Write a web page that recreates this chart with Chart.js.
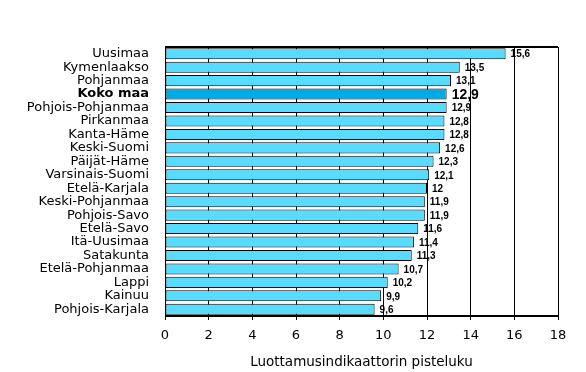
<!DOCTYPE html>
<html lang="fi">
<head>
    <meta charset="UTF-8">
    <title>Luottamusindikaattori maakunnittain</title>
    <script src="https://cdn.jsdelivr.net/npm/chart.js"></script>
    <style>
        html, body { margin: 0; padding: 0; background: #fff; }
        #wrap { width: 586px; height: 372px; }
    </style>
</head>
<body>
    <div id="wrap"><canvas id="chart" width="586" height="372"></canvas></div>

    <script>
        // Data
        const regions = ['Uusimaa', 'Kymenlaakso', 'Pohjanmaa', 'Koko maa', 'Pohjois-Pohjanmaa', 'Pirkanmaa',
            'Kanta-Häme', 'Keski-Suomi', 'Päijät-Häme', 'Varsinais-Suomi', 'Etelä-Karjala', 'Keski-Pohjanmaa',
            'Pohjois-Savo', 'Etelä-Savo', 'Itä-Uusimaa', 'Satakunta', 'Etelä-Pohjanmaa', 'Lappi', 'Kainuu',
            'Pohjois-Karjala'];
        const scores = [15.6, 13.5, 13.1, 12.9, 12.9, 12.8, 12.8, 12.6, 12.3, 12.1, 12, 11.9, 11.9, 11.6,
            11.4, 11.3, 10.7, 10.2, 9.9, 9.6];
        const xTicks = [0, 2, 4, 6, 8, 10, 12, 14, 16, 18];
        const axisTitle = 'Luottamusindikaattorin pisteluku';
        const wholeCountry = 'Koko maa';

        const isTotal = i => regions[i] === wholeCountry;
        const FONT = '"DejaVu Sans", Verdana, sans-serif';

        // value labels next to bar ends + thicker top/bottom frame lines
        const valueLabels = {
            id: 'valueLabels',
            afterDatasetsDraw(chart) {
                const ctx = chart.ctx;
                const meta = chart.getDatasetMeta(0);
                ctx.save();
                ctx.fillStyle = '#000';
                ctx.textBaseline = 'middle';
                meta.data.forEach((bar, i) => {
                    const txt = String(scores[i]).replace('.', ',');
                    ctx.font = isTotal(i) ? 'bold 14px "Liberation Sans", Arial' : 'bold 10px "Liberation Sans", Arial';
                    ctx.fillText(txt, bar.x + 5, bar.y + 1);
                });
                const a = chart.chartArea;
                ctx.strokeStyle = '#000';
                ctx.lineWidth = 2;
                ctx.beginPath();
                ctx.moveTo(a.left, a.top);
                ctx.lineTo(a.right, a.top);
                ctx.moveTo(a.left, a.bottom);
                ctx.lineTo(a.right, a.bottom);
                ctx.stroke();
                ctx.restore();
            }
        };

        new Chart(document.getElementById('chart'), {
            type: 'bar',
            data: {
                labels: regions,
                datasets: [{
                    data: scores,
                    backgroundColor: regions.map((r, i) => isTotal(i) ? '#00AAE6' : '#57DCFF'),
                    borderColor: '#000',
                    borderWidth: 1,
                    borderSkipped: false,
                    barPercentage: 0.82,
                    categoryPercentage: 1
                }]
            },
            options: {
                indexAxis: 'y',
                responsive: false,
                animation: false,
                layout: { padding: { top: 47, right: 28, bottom: 1, left: 0 } },
                plugins: {
                    legend: { display: false },
                    tooltip: { enabled: false }
                },
                scales: {
                    x: {
                        min: 0,
                        max: 18,
                        afterBuildTicks: s => { s.ticks = xTicks.map(v => ({ value: v })); },
                        afterFit: s => { s.height = 55; },
                        grid: { color: '#000', lineWidth: 1, tickLength: 4 },
                        border: { color: '#000', width: 1 },
                        ticks: {
                            color: '#000',
                            padding: 8,
                            font: { family: FONT, size: 13 }
                        },
                        title: {
                            display: true,
                            text: axisTitle,
                            color: '#000',
                            padding: 0,
                            font: { family: FONT, size: 13.5 }
                        }
                    },
                    y: {
                        afterFit: s => { s.width = 165; },
                        grid: { display: false },
                        border: { color: '#000', width: 1 },
                        ticks: {
                            color: '#000',
                            padding: 8,
                            autoSkip: false,
                            font: ctx => isTotal(ctx.index)
                                ? { family: FONT, size: 13, weight: 'bold' }
                                : { family: FONT, size: 13 }
                        }
                    }
                }
            },
            plugins: [valueLabels]
        });
    </script>
</body>
</html>
